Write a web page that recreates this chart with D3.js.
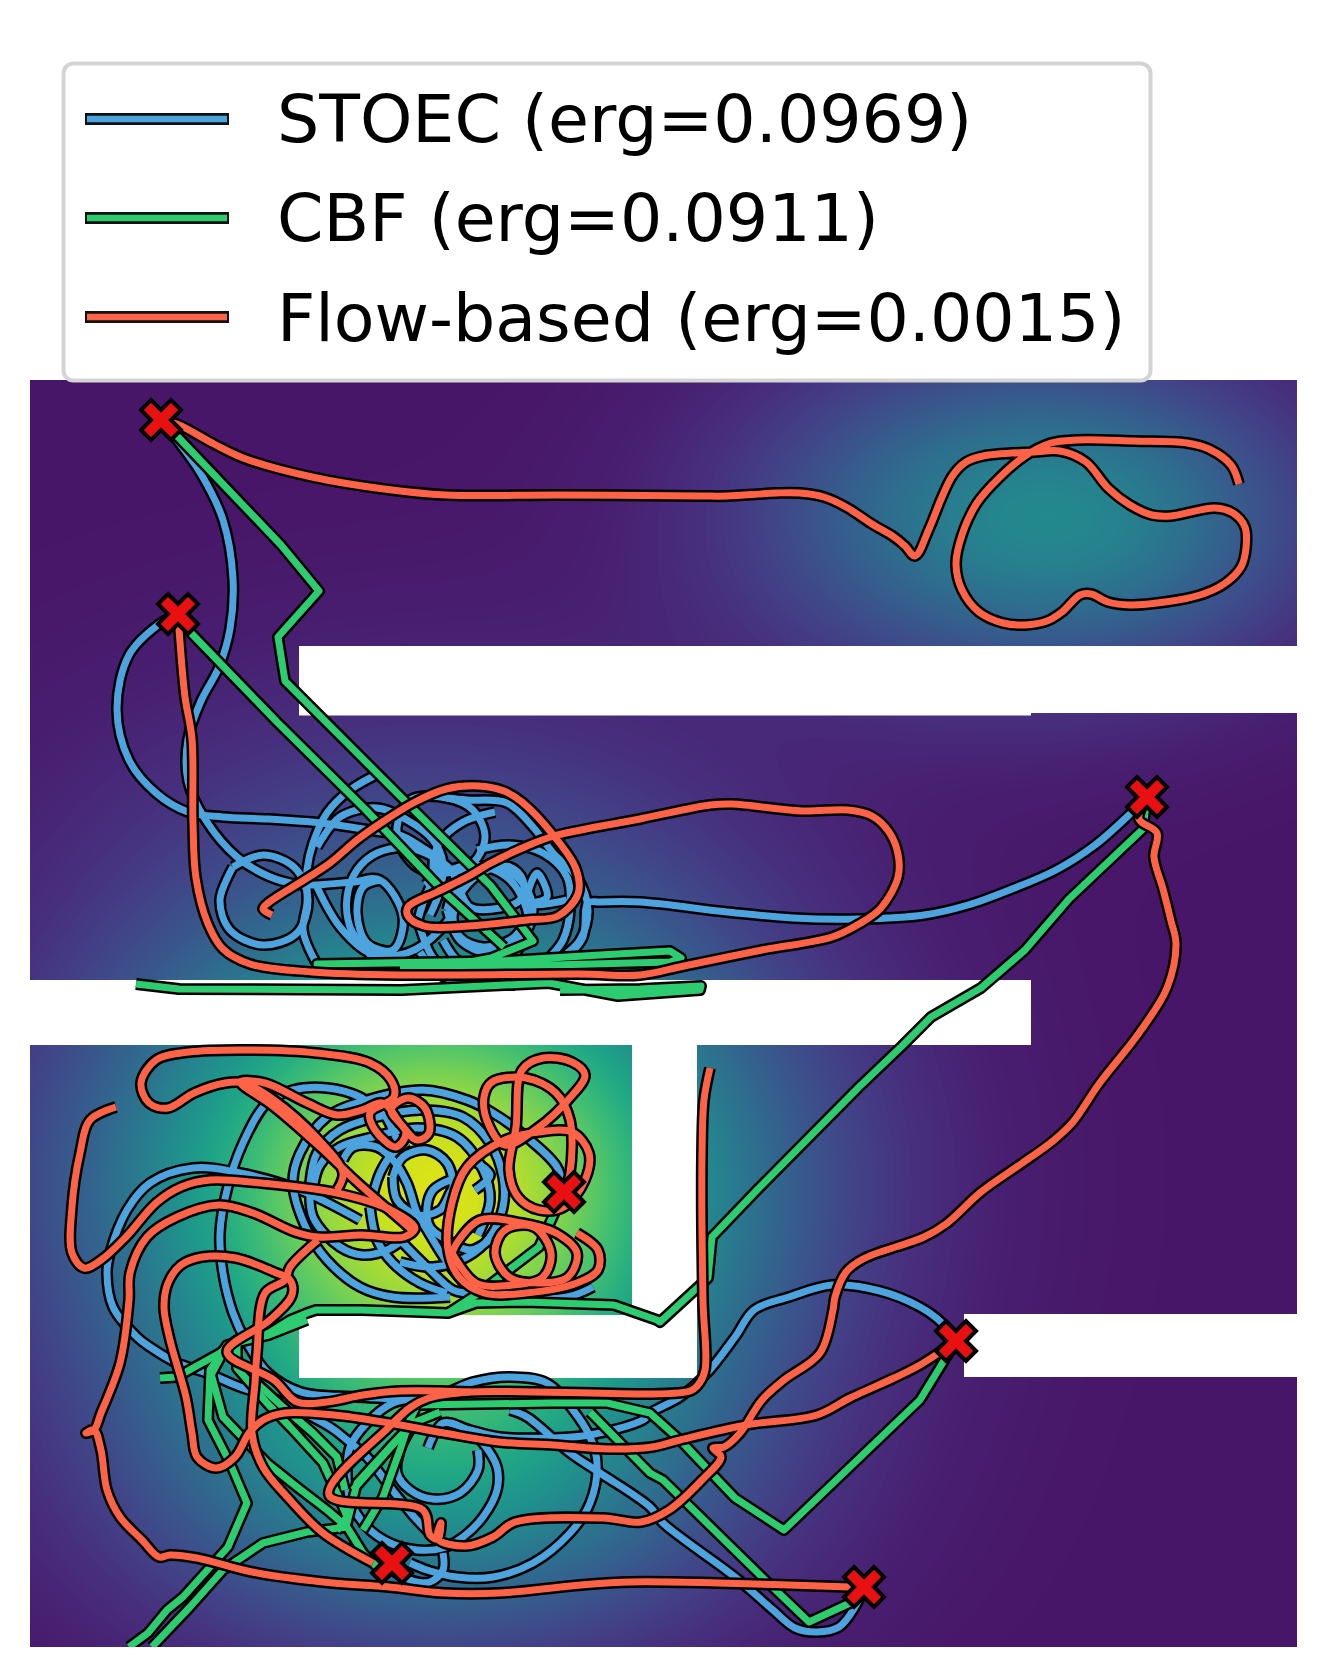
<!DOCTYPE html>
<html><head><meta charset="utf-8">
<script src="https://cdn.jsdelivr.net/npm/d3@7/dist/d3.min.js"></script>
<style>html,body{margin:0;padding:0;background:#fff}#wrap{position:relative;width:1326px;height:1677px;overflow:hidden}canvas,svg{position:absolute;left:0;top:0}</style>
</head><body><div id="wrap"></div>
<script>
const seriesNames = ["STOEC (erg=0.0969)", "CBF (erg=0.0911)", "Flow-based (erg=0.0015)"];
const seriesColors = ["#4ca3dd", "#2ecc71", "#ff6347"];

// density field: centre x, centre y, spread x, spread y, weight
const fieldPeaks = [[435,1185,220,180,0.88],[440,1490,200,115,0.30],[1020,515,180,112,0.38],[1160,530,120,90,0.06],[420,830,260,140,0.07]];
// obstacles: x0,y0,x1,y1
const walls = [[299,646,1031,715.5],[1031,646,1297,713],[30,980,1031,1045],[632,1045,697,1378],[299,1315,697,1378],[964,1314,1297,1377]];
const waypoints = [[161,420],[178,614],[1147,797],[564,1192],[956,1341],[392,1563],[864,1587]];

const stoec = [
 [[1147,797],[1130,814],[1095,845],[1056,870],[1012,889],[968,905],[924,915],[859,919],[793,918],[727,912],[640,902],[600,902],[588,903],[583,937],[567,957],[545,975]],
 [[178,614],[158,625],[129,655],[117,709],[129,760],[156,793],[188,812],[223,817],[268,819],[321,823],[375,831],[402,836],[430,853],[443,863]],
 [[161,420],[174,436],[201,474],[223,520],[233,579],[230,629],[219,667],[201,701],[188,739],[188,781],[205,819],[237,857],[268,876],[295,884],[313,885],[353,882],[380,880],[403,917],[393,950],[367,943],[357,913],[363,887],[380,880]],
 [[233,867],[220,900],[230,930],[263,945],[297,933],[308,900],[295,868],[263,855],[233,867]],
 [[380,773],[350,790],[327,813],[313,843],[307,870],[307,903],[303,930],[313,957],[325,975]],
 [[317,887],[340,927],[370,953],[407,953],[440,930],[457,903],[453,873],[433,857],[407,848],[377,853],[357,870],[347,897],[350,927],[360,943],[385,970]],
 [[317,847],[340,817],[377,808],[407,820],[433,840],[443,863],[440,890],[430,915]],
 [[400,843],[397,827],[410,800],[447,798],[473,810],[485,837],[473,863],[447,873],[417,867],[400,843],[430,853],[438,870],[425,885]],
 [[495,812],[463,822],[440,842],[433,867],[442,890]],
 [[447,798],[467,800],[507,803],[533,827],[553,853],[577,877],[588,910],[580,940],[563,957],[540,978]],
 [[477,850],[510,845],[543,853],[567,877],[570,910],[563,940],[550,957],[530,978]],
 [[523,927],[510,940],[483,947],[460,937],[453,917],[463,890],[487,870],[510,867],[523,880],[520,900],[500,908],[470,907],[460,890]],
 [[533,903],[547,897],[537,873],[528,903],[567,900]],
 [[447,910],[460,880],[490,867],[520,880],[533,910],[520,940],[490,953],[460,940],[447,910]],
 [[418,920],[435,880],[473,865],[510,880],[528,920],[510,960],[473,975],[435,960],[418,920]],
 [[443,940],[457,960],[477,970],[505,975],[535,960]],
 [[420,952],[440,975],[470,983],[515,985]],
 [[564,1192],[557,1167],[530,1140],[493,1113],[467,1100],[423,1090],[367,1100],[327,1117],[300,1153],[293,1183],[307,1230],[327,1260],[360,1287],[393,1297],[450,1297]],
 [[400,1147],[383,1113],[377,1110],[360,1097],[327,1088],[293,1090],[267,1103],[243,1143],[227,1190],[220,1233],[223,1273],[233,1313],[247,1343],[268,1373],[301,1392],[357,1397],[430,1400]],
 [[360,1220],[300,1190],[240,1173],[193,1168],[150,1183],[127,1210],[110,1253],[107,1273],[113,1307],[137,1337],[150,1347],[177,1363],[207,1373],[240,1387],[270,1397],[330,1427],[347,1440],[367,1457],[390,1487],[417,1520],[437,1540]],
 [[310,1183],[317,1153],[340,1130],[377,1117],[420,1110],[463,1117],[490,1143],[503,1177],[503,1207],[490,1237],[467,1257],[433,1267],[400,1262]],
 [[310,1183],[313,1217],[340,1247],[363,1255],[387,1250],[405,1238]],
 [[313,1190],[320,1165],[340,1147],[373,1137],[417,1128],[457,1137],[483,1170],[490,1200],[478,1235]],
 [[393,1177],[403,1157],[427,1150],[447,1163],[453,1187],[450,1193],[440,1210],[417,1215],[397,1200],[393,1177]],
 [[370,1207],[380,1173],[393,1153],[408,1142]],
 [[370,1207],[377,1240],[393,1263],[420,1283],[447,1293]],
 [[343,1160],[353,1147],[377,1147],[393,1160],[407,1183],[417,1213],[427,1230],[447,1262],[470,1290]],
 [[450,1180],[433,1190],[427,1207],[430,1227],[447,1240],[470,1250],[490,1240]],
 [[400,1240],[427,1267],[453,1290],[467,1293],[500,1297],[567,1297],[593,1287]],
 [[475,1190],[490,1175],[472,1160]],
 [[956,1341],[942,1323],[920,1307],[880,1291],[832,1285],[789,1297],[754,1310],[735,1337],[707,1373],[680,1397],[652,1412],[643,1420],[590,1435],[550,1438],[500,1437],[470,1430],[443,1423],[428,1448]],
 [[864,1587],[855,1607],[839,1627],[817,1632],[795,1628],[773,1610],[735,1577],[663,1523],[650,1507],[600,1473],[570,1453],[527,1417],[510,1410]],
 [[410,1563],[427,1570],[457,1577],[493,1577],[533,1563],[570,1533],[590,1503],[597,1463],[590,1437],[573,1410],[547,1383],[510,1377],[473,1382],[440,1395],[393,1403],[367,1423],[350,1447],[347,1473],[350,1500],[367,1527],[390,1543],[417,1550],[443,1548],[463,1537],[483,1517],[497,1490],[497,1467],[483,1443],[470,1430]],
 [[478,1450],[478,1470],[460,1493],[433,1499],[410,1490],[397,1473],[400,1450],[410,1430]],
 [[443,1553],[443,1570],[430,1582],[410,1580],[385,1565]]
];

const cbf = [
 [[161,420],[179,438],[281,545],[319,591],[278,637],[285,681],[313,709],[406,802],[491,886],[533,941],[491,958],[470,962],[317,964],[500,961],[600,955],[670,951],[681,958],[670,962],[513,966],[400,968]],
 [[178,614],[192,634],[277,722],[366,810],[446,894],[504,947]],
 [[136,984],[179,989],[402,990],[549,983],[618,996],[700,990],[701,986],[640,989],[560,990]],
 [[1147,797],[1143,829],[1069,899],[1025,950],[981,988],[931,1017],[902,1046],[859,1087],[758,1189],[712,1237],[708,1278],[660,1322],[657,1320],[614,1305],[526,1302],[476,1303],[448,1313],[421,1312],[362,1310],[316,1310],[307,1313],[290,1320],[269,1333],[237,1340],[220,1353],[193,1368],[177,1377],[160,1378]],
 [[307,1320],[269,1335],[227,1345],[210,1377]],
 [[564,1192],[539,1247],[505,1273],[476,1295],[448,1313]],
 [[956,1341],[920,1400],[784,1530],[735,1498],[680,1440],[650,1413],[607,1403],[550,1403],[417,1405],[410,1420],[400,1450],[383,1497],[363,1530]],
 [[864,1587],[850,1603],[809,1622],[762,1577],[663,1480],[650,1473],[590,1412]],
 [[440,1412],[413,1423],[390,1447],[357,1483],[347,1523],[337,1530]],
 [[397,1440],[377,1463],[353,1490]],
 [[237,1340],[237,1368],[267,1403],[290,1427],[323,1463],[340,1500],[347,1517],[337,1530]],
 [[250,1377],[283,1407],[313,1433],[337,1457],[345,1490]],
 [[227,1345],[210,1370],[208,1420],[230,1463],[247,1503],[228,1547],[183,1597],[167,1610],[148,1633],[129,1647]],
 [[210,1370],[223,1417],[267,1463],[297,1487],[327,1510],[347,1527],[363,1553],[380,1570]],
 [[347,1527],[307,1532],[263,1543],[223,1570],[190,1607],[152,1647]]
];

const flow = [
 [[1239,484],[1231,465],[1209,449],[1187,443],[1134,441],[1077,440],[1051,443],[1025,456],[999,478],[977,503],[962,535],[956,564],[962,590],[979,612],[1003,623],[1025,625],[1047,621],[1062,612],[1080,595],[1091,594],[1108,602],[1130,605],[1165,602],[1200,595],[1224,584],[1241,567],[1246,548],[1245,527],[1233,513],[1215,508],[1171,516],[1152,515],[1130,505],[1108,488],[1086,462],[1060,451],[1034,452],[983,456],[966,462],[953,475],[942,497],[929,529],[915,556],[905,546],[894,537],[872,524],[846,507],[824,497],[800,493],[776,493],[727,496],[700,496],[558,495],[446,495],[384,489],[312,477],[246,459],[214,444],[179,425],[161,420]],
 [[178,614],[179,629],[185,697],[192,739],[193,823],[196,878],[208,924],[223,949],[250,964],[312,972],[402,975],[580,974],[640,975],[684,966],[762,950],[832,937],[859,924],[881,908],[898,877],[898,854],[889,832],[872,816],[848,810],[802,811],[732,804],[710,805],[640,819],[554,836],[527,846],[491,863],[469,876],[437,892],[408,907],[408,916],[424,926],[469,926],[527,920],[558,916],[578,894],[576,869],[554,836],[522,802],[504,791],[478,786],[446,789],[415,802],[384,821],[357,840],[330,863],[304,880],[268,903],[263,909],[272,915]],
 [[1147,797],[1139,819],[1157,833],[1154,857],[1163,889],[1171,921],[1176,944],[1167,988],[1139,1033],[1099,1084],[1073,1122],[1053,1141],[1021,1164],[981,1192],[946,1224],[924,1237],[863,1259],[846,1272],[835,1297],[833,1310],[820,1353],[784,1380],[762,1400],[740,1433],[724,1447],[713,1448],[721,1457],[702,1480],[669,1510],[641,1522],[603,1518],[515,1522],[493,1537],[466,1546],[438,1539],[441,1523],[438,1539],[430,1535],[423,1510],[329,1495],[389,1427],[411,1407],[429,1398],[470,1392],[690,1391],[698,1385],[705,1370],[703,1300],[702,1157],[704,1100],[710,1068]],
 [[956,1341],[920,1365],[894,1378],[850,1398],[817,1415],[746,1425],[680,1440],[652,1447],[609,1449],[554,1445],[499,1442],[444,1433],[389,1423],[334,1415],[285,1413],[263,1420],[249,1433],[235,1457],[216,1468],[197,1457],[192,1433],[186,1397],[170,1340],[164,1307],[168,1283],[181,1265],[202,1257],[236,1258],[274,1272],[290,1280],[292,1295],[270,1320],[227,1352],[274,1380],[297,1402],[327,1402],[363,1395],[400,1391],[470,1392]],
 [[864,1587],[850,1587],[718,1583],[630,1582],[581,1585],[499,1593],[444,1593],[389,1587],[323,1582],[252,1572],[197,1558],[170,1555],[159,1557],[142,1540],[120,1517],[107,1490],[101,1450],[94,1430],[86,1433],[94,1430],[101,1413],[120,1363],[129,1300],[130,1273],[147,1237],[177,1217],[219,1205],[253,1213],[295,1232],[318,1237],[362,1235],[404,1237],[415,1228],[391,1210],[337,1193],[261,1183],[210,1180],[181,1187],[156,1203],[126,1237],[101,1260],[84,1268],[72,1253],[72,1207],[80,1153],[90,1120],[116,1107]],
 [[318,1240],[290,1267],[285,1280],[265,1293],[257,1353],[255,1383],[252,1433],[263,1467],[290,1500],[323,1533],[373,1563]],
 [[337,1190],[343,1173],[316,1137],[274,1100],[244,1083],[225,1083],[194,1093],[168,1108],[149,1103],[141,1083],[156,1060],[189,1052],[253,1050],[316,1053],[370,1063],[391,1080],[394,1097],[370,1113],[375,1130],[396,1147],[406,1133],[391,1110],[408,1098],[425,1108],[429,1133],[417,1140],[400,1123],[383,1103],[362,1110],[337,1115],[307,1103],[265,1083],[240,1082],[274,1107],[320,1147],[358,1183],[404,1223],[415,1233]],
 [[577,1233],[598,1250],[598,1270],[577,1283],[526,1293],[484,1293],[459,1277],[448,1250],[452,1203],[467,1167],[505,1140],[539,1132],[572,1132],[589,1153],[585,1180],[564,1207],[539,1210],[518,1197],[509,1170],[516,1127],[522,1070],[543,1058],[572,1062],[585,1075],[568,1100],[539,1127],[505,1145],[488,1123],[484,1097],[492,1082],[526,1078],[556,1093],[570,1120],[570,1173],[564,1192]],
 [[452,1253],[459,1240],[480,1220],[522,1223],[556,1233],[577,1253],[568,1277],[539,1283],[509,1277],[495,1253],[505,1230],[534,1227],[551,1253],[543,1277],[513,1285],[476,1283],[452,1253]]
];
const allSeries = [stoec, cbf, flow];

const x = d3.scaleLinear().domain([30,1297]).range([30,1297]);
const y = d3.scaleLinear().domain([380,1647]).range([380,1647]);
const color = d3.scaleSequential(d3.interpolateViridis).domain([0,1]);
const line = d3.line().x(d=>x(d[0])).y(d=>y(d[1]));

const wrap = d3.select("#wrap");
const W=1326,H=1677;
const canvas = wrap.append("canvas").attr("width",W).attr("height",H).node();
const ctx = canvas.getContext("2d");
const img = ctx.createImageData(x(1297)-x(30), y(1647)-y(380));
for(let j=0;j<img.height;j++){for(let i=0;i<img.width;i++){
  const px=x.invert(i+30), py=y.invert(j+380);
  let t=0.055;
  fieldPeaks.forEach(p=>{const dx=(px-p[0])/p[2],dy=(py-p[1])/p[3];t+=p[4]*Math.exp(-0.5*(dx*dx+dy*dy));});
  const c=d3.rgb(color(Math.min(t,1)));
  const k=(j*img.width+i)*4;
  img.data[k]=c.r;img.data[k+1]=c.g;img.data[k+2]=c.b;img.data[k+3]=255;
}}
ctx.putImageData(img,30,380);

const svg = wrap.append("svg").attr("width",W).attr("height",H);
svg.append("defs").append("clipPath").attr("id","axesClip").append("rect")
  .attr("x",0).attr("y",0).attr("width",W).attr("height",y(1647));
svg.append("g").selectAll("rect").data(walls).join("rect")
  .attr("x",d=>x(d[0])).attr("y",d=>y(d[1])).attr("width",d=>x(d[2])-x(d[0])).attr("height",d=>y(d[3])-y(d[1])).attr("fill","#fff");

const plot = svg.append("g").attr("clip-path","url(#axesClip)");
allSeries.forEach((segs,si)=>{
  const g=plot.append("g").attr("fill","none").attr("stroke-linejoin","round");
  const curve = si===1 ? d3.curveLinear : d3.curveCatmullRom.alpha(0.5);
  const l=line.curve(curve);
  g.selectAll("path.o").data(segs).join("path").attr("class","o").attr("d",l).attr("stroke","#000").attr("stroke-width",12).attr("stroke-linecap","butt");
  g.selectAll("path.c").data(segs).join("path").attr("class","c").attr("d",l).attr("stroke",seriesColors[si]).attr("stroke-width",7).attr("stroke-linecap","butt");
});

const xMark={draw(c,s){const a=Math.sqrt(s)/4;
  [[-1,-2],[0,-1],[1,-2],[2,-1],[1,0],[2,1],[1,2],[0,1],[-1,2],[-2,1],[-1,0],[-2,-1]].forEach((p,i)=>{i?c.lineTo(p[0]*a,p[1]*a):c.moveTo(p[0]*a,p[1]*a);});c.closePath();}};
svg.append("g").selectAll("path").data(waypoints).join("path")
  .attr("d",d3.symbol().type(xMark).size(1600))
  .attr("transform",d=>`translate(${x(d[0])},${y(d[1])})`)
  .attr("fill","#e81010").attr("stroke","#000").attr("stroke-width",4).attr("stroke-linejoin","miter");

const lg=svg.append("g");
lg.append("rect").attr("x",63.5).attr("y",63.5).attr("width",1087).attr("height",317).attr("rx",10)
  .attr("fill","#fff").attr("stroke","#d4d4d4").attr("stroke-width",4);
const rows=d3.scaleOrdinal().domain(seriesNames).range([119,218,317]);
const base=d3.scaleOrdinal().domain(seriesNames).range([142,241,341]);
seriesNames.forEach((n,i)=>{
  lg.append("line").attr("x1",85).attr("x2",229).attr("y1",rows(n)).attr("y2",rows(n)).attr("stroke","#111").attr("stroke-width",12);
  lg.append("line").attr("x1",87).attr("x2",227).attr("y1",rows(n)).attr("y2",rows(n)).attr("stroke",seriesColors[i]).attr("stroke-width",6.5);
  lg.append("text").attr("x",277).attr("y",base(n)).attr("font-family","DejaVu Sans").attr("font-size",66.6).attr("fill","#000").text(n);
});
</script></body></html>
